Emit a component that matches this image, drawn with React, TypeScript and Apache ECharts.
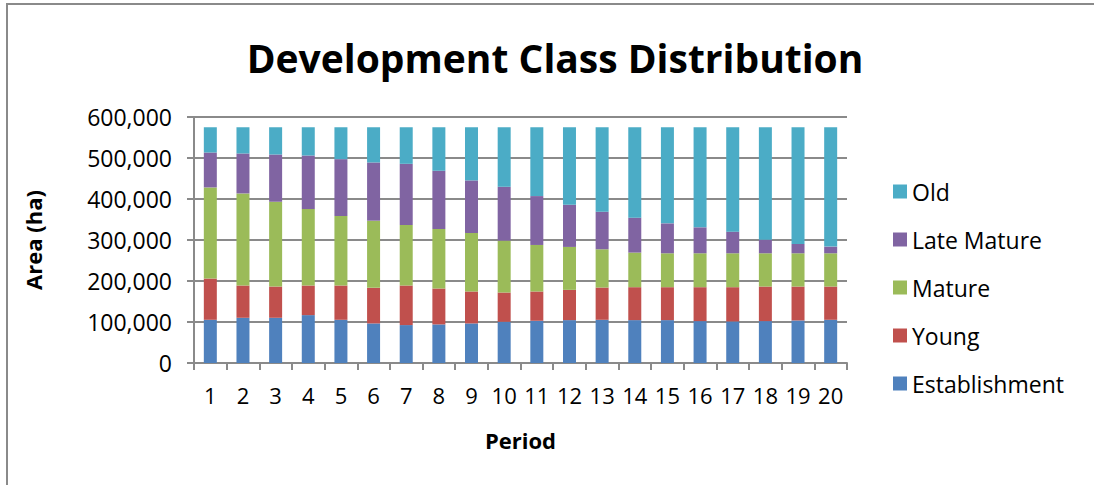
import React, { useEffect, useRef } from "react";
import * as echarts from "echarts";

const periods = ["1","2","3","4","5","6","7","8","9","10","11","12","13","14","15","16","17","18","19","20"];
const establishment = [105400,110300,110300,116800,105400,96500,92500,94100,96500,100600,103000,104600,105400,104600,104600,102200,101400,102200,103800,105400];
const young = [100600,78700,76200,72200,83600,86800,96500,87600,77900,71300,71400,73800,78700,80300,80300,82700,83500,84300,82700,81100];
const mature = [222200,224600,206800,186500,169500,163800,147600,145100,142700,126600,113500,104700,93300,84400,82700,82700,82700,81100,81100,81100];
const lateMature = [85200,97400,115200,130600,138700,142000,149200,142000,128200,131300,119200,102900,91600,85100,73000,63300,52800,33300,22700,16300];
const old = [61600,64000,66500,68900,77800,85900,89200,106200,129700,145200,167900,189000,206000,220600,234400,244100,254600,274100,284700,291100];
const seriesNames = ["Establishment","Young","Mature","Late Mature","Old"];
const legendOrder = ["Old","Late Mature","Mature","Young","Establishment"];
const colors = ["#4F81BD","#C0504D","#9BBB59","#8064A2","#4BACC6"];

const FONT = "'Open Sans', sans-serif";

export default function App() {
  const ref = useRef<HTMLDivElement>(null);
  useEffect(() => {
    if (!ref.current) return;
    const chart = echarts.init(ref.current, null, { renderer: "svg" });
    const dataSets = [establishment, young, mature, lateMature, old];
    chart.setOption({
      animation: false,
      backgroundColor: "#ffffff",
      graphic: [
        { type: "rect", shape: { x: 7, y: 4, width: 1200, height: 600 }, style: { fill: "none", stroke: "#8a8a8a", lineWidth: 2 }, silent: true },
        { type: "text", x: 555, y: 57, style: { text: "Development Class Distribution", font: `bold 39px ${FONT}`, fill: "#000", align: "center", verticalAlign: "middle" } },
      ],
      grid: { left: 194, right: 247, top: 117, bottom: 122 },
      legend: {
        orient: "vertical",
        left: 888,
        top: 175,
        data: legendOrder,
        itemWidth: 14,
        itemHeight: 14,
        itemGap: 25,
        icon: "rect",
        textStyle: { fontFamily: FONT, fontSize: 23, color: "#000", lineHeight: 22 },
      },
      xAxis: {
        type: "category",
        data: periods,
        name: "Period",
        nameLocation: "middle",
        nameGap: 66,
        nameTextStyle: { fontFamily: FONT, fontSize: 22, fontWeight: "bold", color: "#000" },
        axisLine: { lineStyle: { color: "#8a8a8a", width: 2 } },
        axisTick: { show: true, length: 7, lineStyle: { color: "#8a8a8a", width: 2 } },
        axisLabel: { fontFamily: FONT, fontSize: 22, color: "#000", margin: 21, interval: 0 },
      },
      yAxis: {
        type: "value",
        min: 0,
        max: 600000,
        interval: 100000,
        name: "Area (ha)",
        nameLocation: "middle",
        nameGap: 150,
        nameTextStyle: { fontFamily: FONT, fontSize: 22, fontWeight: "bold", color: "#000" },
        axisLine: { show: true, lineStyle: { color: "#8a8a8a", width: 2 } },
        axisTick: { show: true, length: 7, lineStyle: { color: "#8a8a8a", width: 2 } },
        axisLabel: {
          fontFamily: FONT, fontSize: 23, color: "#000", margin: 22,
          formatter: (v: number) => v.toLocaleString("en-US"),
        },
        splitLine: { lineStyle: { color: "#8a8a8a", width: 2 } },
      },
      series: seriesNames.map((name, i) => ({
        name,
        type: "bar",
        stack: "total",
        barWidth: 13,
        data: dataSets[i],
        itemStyle: { color: colors[i] },
      })),
    });
    return () => chart.dispose();
  }, []);
  return <div ref={ref} style={{ position: "fixed", left: 0, top: 0, width: 1094, height: 485 }} />;
}
